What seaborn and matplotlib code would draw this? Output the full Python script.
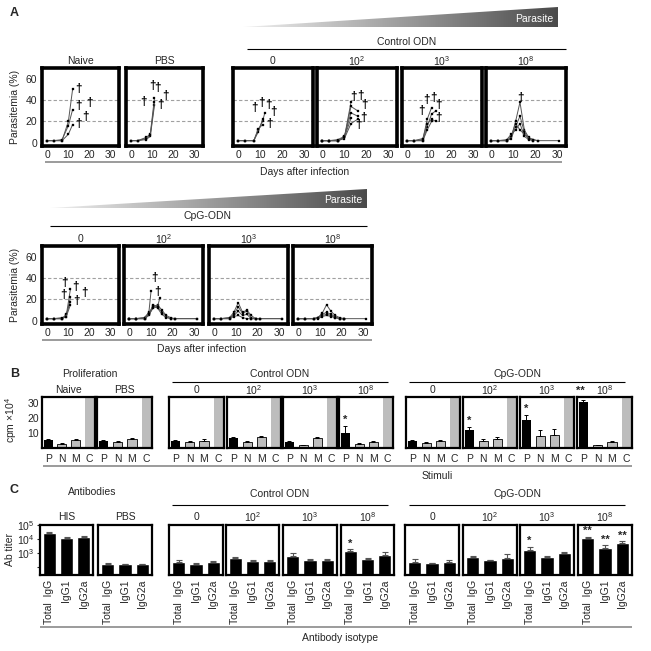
import numpy as np
import pandas as pd
import matplotlib
matplotlib.use("Agg")
import matplotlib.pyplot as plt
import seaborn as sns
from matplotlib.patches import Polygon
from matplotlib.colors import LinearSegmentedColormap

sns.set_theme(style="white")
plt.rcParams["font.family"] = ["Liberation Sans", "DejaVu Sans"]
plt.rcParams["mathtext.default"] = "regular"

# ---------------- Panel A data: per mouse (days, parasitemia %) ----------------
naive_mice = [([0, 3, 7, 10, 12], [2, 2, 2, 20, 50]),
              ([0, 3, 7, 10, 12], [2, 2, 3, 16, 31]),
              ([0, 3, 7, 10, 12], [2, 2, 2, 8, 17])]
naive_deaths = [(15, 50), (15, 34), (20, 37), (18, 24), (15, 18)]

pbs_mice = [([0, 3, 7, 9, 11], [2, 2, 5, 8, 42]),
            ([0, 3, 7, 9, 11], [2, 2, 3, 6, 35]),
            ([0, 3, 7, 9, 11], [2, 2, 4, 7, 38])]
pbs_deaths = [(5.6, 38), (10, 53), (12.5, 51), (16, 44), (14, 35)]

ctl0_mice = [([0, 3, 7, 9, 11, 12], [2, 2, 2, 12, 20, 28]),
             ([0, 3, 7, 9, 11], [2, 2, 2, 10, 22]),
             ([0, 3, 7, 9, 11], [2, 2, 2, 13, 17])]
ctl0_deaths = [(7.5, 33), (10.7, 37), (13.5, 35), (15.8, 29), (14, 18)]

ctl2_mice = [([0, 3, 7, 10, 13], [2, 2, 2, 5, 38]),
             ([0, 3, 7, 10, 13, 16], [2, 2, 2, 5, 34, 30]),
             ([0, 3, 7, 10, 13, 16], [2, 2, 3, 6, 28, 25]),
             ([0, 3, 7, 10, 13, 16], [2, 2, 2, 4, 18, 22]),
             ([0, 3, 7, 10, 13], [2, 2, 2, 5, 23])]
ctl2_deaths = [(14, 43), (17.5, 44), (19, 35), (18.8, 23), (16.5, 17)]

ctl3_mice = [([0, 3, 7, 9, 11], [2, 2, 3, 22, 33]),
             ([0, 3, 7, 9, 11, 13], [2, 2, 2, 15, 27, 30]),
             ([0, 3, 7, 9, 11], [2, 2, 2, 12, 20]),
             ([0, 3, 7, 9, 11, 13], [2, 2, 4, 18, 22, 20])]
ctl3_deaths = [(6.2, 30), (8.8, 40.5), (11.9, 42), (14.3, 35), (14.3, 23)]

ctl8_mice = [([0, 3, 7, 9, 11, 13, 15, 17, 19, 21, 31], [2, 2, 2, 5, 20, 38, 12, 5, 3, 2, 2]),
             ([0, 3, 7, 9, 11, 13, 15, 17, 19, 21], [2, 2, 2, 4, 15, 25, 10, 4, 3, 2]),
             ([0, 3, 7, 9, 11, 13, 15, 17, 19], [2, 2, 2, 6, 18, 12, 8, 4, 2]),
             ([0, 3, 7, 9, 11, 13, 15, 17, 19], [2, 2, 3, 8, 12, 18, 6, 3, 2])]
ctl8_deaths = [(13, 42)]

cpg0_mice = [([0, 3, 7, 9, 11], [2, 2, 2, 5, 30]),
             ([0, 3, 7, 9, 11], [2, 2, 2, 4, 22]),
             ([0, 3, 7, 9, 11], [2, 2, 2, 6, 18]),
             ([0, 3, 7, 9, 11], [2, 2, 3, 4, 15])]
cpg0_deaths = [(7.5, 24), (8, 35.5), (13.2, 31.6), (13.7, 18.5), (17.5, 26)]

cpg2_mice = [([0, 3, 7, 9, 10], [2, 2, 3, 8, 28]),
             ([0, 3, 7, 9, 11, 13, 15, 17, 19, 21, 31], [2, 2, 2, 6, 15, 13, 8, 4, 2, 2, 2]),
             ([0, 3, 7, 9, 11, 13, 15, 17, 19, 21, 31], [2, 2, 2, 5, 13, 15, 10, 5, 3, 2, 2]),
             ([0, 3, 7, 9, 11, 13, 15, 17, 19, 21], [2, 2, 3, 7, 14, 12, 6, 3, 2, 2]),
             ([0, 3, 7, 9, 11, 13, 14], [2, 2, 2, 6, 12, 13, 21])]
cpg2_deaths = [(11.7, 40), (13, 27)]

cpg3_mice = [([0, 3, 7, 9, 11, 13, 15, 17, 19, 21, 31], [2, 2, 3, 8, 17, 8, 10, 5, 2, 2, 2]),
             ([0, 3, 7, 9, 11, 13, 15, 17, 19, 21, 31], [2, 2, 2, 6, 13, 7, 9, 3, 2, 2, 2]),
             ([0, 3, 7, 9, 11, 13, 15, 17, 19, 21], [2, 2, 3, 5, 9, 5, 6, 2, 2, 2]),
             ([0, 3, 7, 9, 11, 13, 15, 17, 19], [2, 2, 2, 4, 5, 3, 2, 2, 2])]
cpg3_deaths = []

cpg8_mice = [([0, 3, 7, 9, 11, 13, 15, 17, 19, 21, 31], [2, 2, 2, 3, 7, 15, 9, 5, 3, 2, 2]),
             ([0, 3, 7, 9, 11, 13, 15, 17, 19, 21], [2, 2, 2, 3, 6, 8, 6, 4, 2, 2]),
             ([0, 3, 7, 9, 11, 13, 15, 17, 19, 21], [2, 2, 2, 3, 5, 6, 5, 3, 2, 2]),
             ([0, 3, 7, 9, 11, 13, 15, 17, 19, 21], [2, 2, 2, 2, 4, 5, 4, 3, 2, 2])]
cpg8_deaths = []

# ---------------- Panel B data: proliferation (cpm x10^4) ----------------
stimuli = ["P", "N", "M", "C"]
prolif_groups = ["Naive", "PBS", "0", "10$^{2}$", "10$^{3}$", "10$^{8}$",
                 "0", "10$^{2}$", "10$^{3}$", "10$^{8}$"]
prolif_vals = [[5.3, 3.0, 5.5], [4.5, 4.0, 6.0], [5.0, 4.0, 5.0], [7.0, 4.0, 7.5],
               [4.0, 2.0, 7.0], [10.0, 3.0, 4.0], [5.0, 3.5, 5.0], [12.0, 4.5, 6.0],
               [19.0, 8.0, 9.0], [31.0, 2.0, 4.0]]
prolif_errs = [[0.4, 0.3, 0.4], [0.8, 0.4, 0.4], [0.4, 0.4, 0.8], [0.6, 0.4, 0.5],
               [0.6, 0.2, 0.4], [5.0, 0.3, 0.4], [0.4, 0.4, 0.5], [2.0, 1.5, 1.5],
               [3.0, 4.0, 4.0], [1.0, 0.2, 0.4]]
prolif_stars = ["", "", "", "", "", "*", "", "*", "*", "**"]
control_c = 40.0

# ---------------- Panel C data: antibody titers ----------------
isotypes = ["Total  IgG", "IgG1", "IgG2a"]
ab_groups = ["HIS", "PBS", "0", "10$^{2}$", "10$^{3}$", "10$^{8}$",
             "0", "10$^{2}$", "10$^{3}$", "10$^{8}$"]
ab_vals = [[27000, 12500, 14000], [160, 150, 150], [230, 160, 200], [440, 270, 270],
           [630, 320, 320], [1380, 370, 720], [230, 180, 230], [500, 280, 440],
           [1600, 500, 1000], [11700, 2300, 5000]]
ab_errs = [[2000, 800, 900], [10, 10, 10], [80, 10, 50], [80, 40, 40],
           [350, 50, 50], [400, 30, 400], [100, 15, 80], [100, 40, 400],
           [1200, 70, 200], [3000, 1200, 1500]]
ab_stars = [["", "", ""]] * 5 + [["*", "", ""]] + [["", "", ""]] * 2 + \
           [["*", "", ""], ["**", "**", "**"]]

# ---------------- layout helpers ----------------
W = 651
fig = plt.figure(figsize=(6.51, 6.51), dpi=100)
FS = 7.5


def pax(x0, y0, x1, y1):
    return fig.add_axes([x0 / W, 1 - y1 / W, (x1 - x0) / W, (y1 - y0) / W])


def frame(ax, lw):
    for s in ax.spines.values():
        s.set_visible(True)
        s.set_color("black")
        s.set_linewidth(lw)


def parasitemia(box, mice, deaths, show_y):
    ax = pax(*box)
    rows = []
    for i, (d, v) in enumerate(mice):
        for dd, vv in zip(d, v):
            rows.append((i, dd, vv))
    df = pd.DataFrame(rows, columns=["mouse", "day", "val"])
    for yy in (20, 40):
        ax.axhline(yy, color="#a0a0a0", lw=0.8, ls=(0, (3, 2)), zorder=0)
    sns.lineplot(data=df, x="day", y="val", units="mouse", estimator=None,
                 color="#555555", lw=0.7, marker="s", markersize=2.0,
                 markerfacecolor="black", markeredgecolor="black",
                 markeredgewidth=0.2, sort=False, ax=ax)
    for x, y in deaths:
        ax.text(x, y, "\u2020", ha="center", va="center", fontsize=8.5,
                fontweight="bold", color="black")
    ax.set_xlim(-2.5, 34)
    ax.set_ylim(-3, 70)
    ax.set_xticks([0, 10, 20, 30])
    ax.set_yticks([0, 20, 40, 60])
    ax.set_xlabel("")
    ax.set_ylabel("")
    ax.tick_params(axis="x", length=0, pad=3, labelsize=FS)
    ax.tick_params(axis="y", length=0, pad=3.5, labelsize=FS, labelleft=show_y)
    frame(ax, 2.6)
    return ax


def prolif(box, vals, errs, star, show_y):
    ax = pax(*box)
    df = pd.DataFrame({"stim": stimuli, "cpm": list(vals) + [control_c]})
    sns.barplot(data=df, x="stim", y="cpm", hue="stim",
                palette=["black", "#bdbdbd", "#bdbdbd", "#bdbdbd"],
                legend=False, width=0.65, errorbar=None, saturation=1, ax=ax)
    for i, cont in enumerate(ax.containers):
        for p in cont:
            if i in (1, 2):
                p.set_edgecolor("black")
                p.set_linewidth(0.6)
            else:
                p.set_linewidth(0)
    ax.errorbar(range(3), vals, yerr=[np.zeros(3), errs], fmt="none",
                ecolor="black", elinewidth=0.7, capsize=1.5, capthick=0.7)
    ax.set_xlim(-0.45, 3.4)
    ax.set_ylim(0, 34)
    if star:
        ys = vals[0] + errs[0] + 0.6
        if ys > 30:
            ax.text(-0.2, 34.6, star, ha="center", va="bottom", fontsize=8,
                    fontweight="bold", clip_on=False)
        else:
            ax.text(0, ys, star, ha="center", va="bottom", fontsize=8,
                    fontweight="bold")
    ax.set_yticks([10, 20, 30])
    ax.set_xlabel("")
    ax.set_ylabel("")
    ax.tick_params(axis="x", length=0, pad=4.5, labelsize=FS)
    ax.tick_params(axis="y", length=0, pad=2, labelsize=FS, labelleft=show_y)
    frame(ax, 1.6)
    return ax


def antibody(box, vals, errs, stars, show_y):
    ax = pax(*box)
    ax.set_yscale("log")
    df = pd.DataFrame({"iso": isotypes, "titer": vals})
    sns.barplot(data=df, x="iso", y="titer", color="black", width=0.78,
                errorbar=None, saturation=1, ax=ax)
    ax.errorbar(range(3), vals, yerr=[np.zeros(3), errs], fmt="none",
                ecolor="#555555", elinewidth=0.8, capsize=2.2, capthick=0.8)
    ax.set_xlim(-0.55, 2.55)
    ax.set_ylim(10 ** 1.4, 1e5)
    for i, s in enumerate(stars):
        if s:
            ax.text(i, (vals[i] + errs[i]) * 1.12, s, ha="center", va="bottom",
                    fontsize=8, fontweight="bold")
    ax.set_yticks([1e2, 1e3, 1e4, 1e5])
    ax.set_yticklabels(["", "10$^{3}$", "10$^{4}$", "10$^{5}$"])
    ax.yaxis.set_minor_locator(matplotlib.ticker.NullLocator())
    ax.set_xlabel("")
    ax.set_ylabel("")
    ax.tick_params(axis="x", length=0, pad=3.5, labelsize=FS, labelrotation=90)
    ax.tick_params(axis="y", which="major", length=2.5 if show_y else 0,
                   width=0.8, direction="out", left=show_y, pad=1.5,
                   labelsize=FS, labelleft=show_y)
    frame(ax, 1.6)
    return ax


# ---------------- Panel A ----------------
rowA1_boxes = [(42, 68, 119, 146), (126, 68, 203, 146), (233, 68, 313, 146),
               (317, 68, 397, 146), (402, 68, 482, 146), (486, 68, 566, 146)]
rowA1_titles = ["Naive", "PBS", "0", "10$^{2}$", "10$^{3}$", "10$^{8}$"]
rowA1_data = [(naive_mice, naive_deaths), (pbs_mice, pbs_deaths),
              (ctl0_mice, ctl0_deaths), (ctl2_mice, ctl2_deaths),
              (ctl3_mice, ctl3_deaths), (ctl8_mice, ctl8_deaths)]
for i, (b, (m, d)) in enumerate(zip(rowA1_boxes, rowA1_data)):
    parasitemia(b, m, d, i == 0)

rowA2_boxes = [(42, 246, 119, 324), (124, 246, 203, 324),
               (209, 246, 288, 324), (293, 246, 372, 324)]
rowA2_titles = ["0", "10$^{2}$", "10$^{3}$", "10$^{8}$"]
rowA2_data = [(cpg0_mice, cpg0_deaths), (cpg2_mice, cpg2_deaths),
              (cpg3_mice, cpg3_deaths), (cpg8_mice, cpg8_deaths)]
for i, (b, (m, d)) in enumerate(zip(rowA2_boxes, rowA2_data)):
    parasitemia(b, m, d, i == 0)

# ---------------- Panel B ----------------
B_boxes = [(42, 397, 95, 448), (97, 397, 152, 448), (169, 397, 224, 448),
           (227, 397, 281, 448), (283, 397, 337, 448), (339, 397, 393, 448),
           (406, 397, 460, 448), (463, 397, 517, 448), (520, 397, 574, 448),
           (577, 397, 632, 448)]
for i, b in enumerate(B_boxes):
    prolif(b, prolif_vals[i], prolif_errs[i], prolif_stars[i], i == 0)

# ---------------- Panel C ----------------
C_boxes = [(40, 525, 93, 575), (98, 525, 152, 575), (169, 525, 223, 575),
           (226, 525, 279, 575), (283, 525, 337, 575), (341, 525, 394, 575),
           (405, 525, 459, 575), (463, 525, 517, 575), (520, 525, 574, 575),
           (578, 525, 632, 575)]
for i, b in enumerate(C_boxes):
    antibody(b, ab_vals[i], ab_errs[i], ab_stars[i], i == 0)

# ---------------- overlay annotations (pixel coordinates) ----------------
ov = fig.add_axes([0, 0, 1, 1], zorder=10)
ov.set_xlim(0, W)
ov.set_ylim(W, 0)
ov.axis("off")
ov.patch.set_alpha(0)


def T(x, y, s, **kw):
    kw.setdefault("fontsize", FS)
    kw.setdefault("ha", "center")
    kw.setdefault("va", "center")
    ov.text(x, y, s, **kw)


def L(x0, x1, y, color="black", lw=0.8):
    ov.plot([x0, x1], [y, y], color=color, lw=lw, solid_capstyle="butt")


grad = LinearSegmentedColormap.from_list("g", ["#f0f0f0", "#4a4a4a"])


def wedge(x0, x1, ytop, ybot):
    poly = Polygon([(x0, ybot), (x1, ytop), (x1, ybot)], closed=True,
                   facecolor="none", edgecolor="none")
    ov.add_patch(poly)
    im = ov.imshow(np.linspace(0, 1, 256)[None, :], cmap=grad, aspect="auto",
                   extent=(x0, x1, ybot, ytop), interpolation="bilinear")
    im.set_clip_path(poly)
    ov.set_xlim(0, W)
    ov.set_ylim(W, 0)


# Panel A labels
T(10, 13, "A", fontsize=9, fontweight="bold", ha="left")
wedge(243, 558, 7, 27)
T(553, 19, "Parasite", color="white", ha="right")
T(407, 42, "Control ODN")
L(247, 566, 49)
for b, t in zip(rowA1_boxes, rowA1_titles):
    T((b[0] + b[2]) / 2, 61, t)
L(45, 562, 162, color="#8a8a8a", lw=1.2)
T(305, 172, "Days after infection")
T(15, 107, "Parasitemia (%)", rotation=90)

wedge(50, 367, 189, 208)
T(362, 200, "Parasite", color="white", ha="right")
T(207, 216, "CpG-ODN")
L(50, 367, 226)
for b, t in zip(rowA2_boxes, rowA2_titles):
    T((b[0] + b[2]) / 2, 239, t)
L(42, 372, 340, color="#8a8a8a", lw=1.2)
T(202, 349, "Days after infection")
T(15, 285, "Parasitemia (%)", rotation=90)

# Panel B labels
T(10, 374, "B", fontsize=9, fontweight="bold", ha="left")
T(90, 374, "Proliferation")
T(280, 374, "Control ODN")
L(172, 388, 382)
T(517, 374, "CpG-ODN")
L(409, 625, 382)
for b, t in zip(B_boxes, prolif_groups):
    T((b[0] + b[2]) / 2, 390, t)
L(43, 632, 466, color="#8a8a8a", lw=1.2)
T(437, 476, "Stimuli")
T(11, 420, "cpm \u00d710$^{4}$", rotation=90)

# Panel C labels
T(10, 490, "C", fontsize=9, fontweight="bold", ha="left")
T(92, 492, "Antibodies")
T(280, 494, "Control ODN")
L(172, 388, 505)
T(517, 494, "CpG-ODN")
L(409, 625, 505)
for b, t in zip(C_boxes, ab_groups):
    T((b[0] + b[2]) / 2, 517, t)
L(40, 632, 627, color="#8a8a8a", lw=1.2)
T(340, 638, "Antibody isotype")
T(10, 550, "Ab titer", rotation=90)

fig.savefig("out.png", dpi=100, facecolor="white")
